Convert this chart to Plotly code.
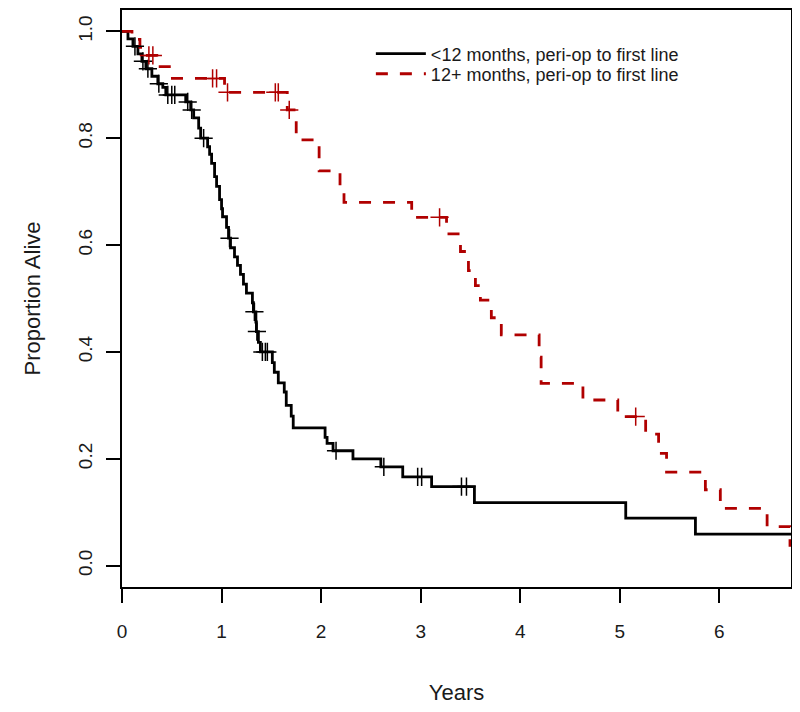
import plotly.graph_objects as go
import numpy as np

# ---- data: Kaplan-Meier step points (time in years, proportion alive) ----
black_times = [0, 0.06, 0.11, 0.16, 0.20, 0.24, 0.30, 0.36, 0.41, 0.44, 0.64, 0.69, 0.72, 0.77, 0.79,
               0.86, 0.88, 0.90, 0.93, 0.95, 0.98, 1.00, 1.01, 1.05, 1.07, 1.09, 1.13, 1.16, 1.19,
               1.22, 1.25, 1.31, 1.32, 1.345, 1.35, 1.37, 1.39, 1.51, 1.53, 1.57, 1.63, 1.65, 1.70,
               1.72, 2.04, 2.06, 2.12, 2.32, 2.60, 2.82, 3.11, 3.54, 5.06, 5.76, 6.80]
black_surv = [1.0, 0.986, 0.972, 0.958, 0.944, 0.930, 0.916, 0.902, 0.895, 0.881, 0.868, 0.853, 0.838, 0.819, 0.800,
              0.784, 0.770, 0.753, 0.728, 0.710, 0.685, 0.668, 0.653, 0.633, 0.613, 0.595, 0.578, 0.562, 0.545,
              0.527, 0.510, 0.492, 0.475, 0.456, 0.438, 0.418, 0.400, 0.380, 0.362, 0.342, 0.325, 0.300, 0.280,
              0.258, 0.240, 0.229, 0.215, 0.200, 0.185, 0.166, 0.148, 0.118, 0.089, 0.059, 0.059]
black_censor = [0.13, 0.21, 0.26, 0.37, 0.46, 0.50, 0.53, 0.66, 0.70, 0.82, 1.08, 1.33, 1.355,
                1.41, 1.44, 1.46, 2.15, 2.63, 2.97, 3.01, 3.41, 3.46]

red_times = [0, 0.10, 0.18, 0.22, 0.35, 0.49, 1.03, 1.66, 1.75, 1.98, 2.19, 2.23, 2.91, 3.26, 3.40,
             3.48, 3.55, 3.60, 3.71, 3.81, 4.19, 4.21, 4.63, 4.98, 5.26, 5.39, 5.47, 5.86, 6.01,
             6.48, 6.71, 6.80]
red_surv = [1.0, 0.985, 0.970, 0.955, 0.934, 0.912, 0.886, 0.853, 0.797, 0.739, 0.700, 0.680, 0.652, 0.621, 0.588,
            0.552, 0.524, 0.497, 0.464, 0.432, 0.390, 0.341, 0.310, 0.279, 0.246, 0.210, 0.175, 0.142, 0.107,
            0.073, 0.038, 0.038]
red_censor = [0.27, 0.31, 0.91, 0.95, 1.06, 1.54, 1.57, 1.68, 3.19, 5.16]

x_ticks = [0, 1, 2, 3, 4, 5, 6]
y_ticks = [0.0, 0.2, 0.4, 0.6, 0.8, 1.0]

series_names = ["<12 months, peri-op to first line", "12+ months, peri-op to first line"]


def surv_at(times, surv, t):
    idx = np.searchsorted(np.array(times), t, side="right") - 1
    return float(np.array(surv)[idx])


BLACK = "#000000"
RED = "#b00000"
TEXT = "#1a1a1a"
FONT = "Liberation Sans, Arial, sans-serif"

fig = go.Figure()

fig.add_trace(go.Scatter(x=black_times, y=black_surv, mode="lines", line_shape="hv",
                         line=dict(color=BLACK, width=2.8), name=series_names[0], legend="legend"))
fig.add_trace(go.Scatter(x=red_times, y=red_surv, mode="lines", line_shape="hv",
                         line=dict(color=RED, width=2.8, dash="12px,12px"), name=series_names[1],
                         legend="legend2"))

fig.add_trace(go.Scatter(x=black_censor, y=[surv_at(black_times, black_surv, t) for t in black_censor],
                         mode="markers", showlegend=False,
                         marker=dict(symbol="cross-thin", size=13, line=dict(color=BLACK, width=1.5))))
fig.add_trace(go.Scatter(x=red_censor, y=[surv_at(red_times, red_surv, t) for t in red_censor],
                         mode="markers", showlegend=False,
                         marker=dict(symbol="cross-thin", size=13, line=dict(color=RED, width=1.5))))

legend_common = dict(xanchor="left", yanchor="middle", bgcolor="rgba(0,0,0,0)",
                     font=dict(size=18, color=TEXT, family=FONT), itemwidth=50)

fig.update_layout(
    width=800, height=712,
    margin=dict(l=114, r=17, t=2, b=133),
    paper_bgcolor="white", plot_bgcolor="white",
    font=dict(family=FONT, size=19, color=TEXT),
    showlegend=True,
    legend=dict(x=0.372, y=0.924, **legend_common),
    legend2=dict(x=0.372, y=0.889, **legend_common),
    xaxis=dict(range=[0, 6.72], tickvals=x_ticks, ticktext=[str(v) for v in x_ticks],
               automargin=False, showgrid=False, zeroline=False, showline=True, mirror=True,
               linecolor="black", linewidth=1.5, ticks="outside", ticklen=14,
               tickwidth=1.5, tickcolor="black", ticklabelstandoff=12,
               title=dict(text="Years", font=dict(size=22), standoff=44)),
    yaxis=dict(range=[-0.04, 1.04], tickvals=y_ticks, ticktext=[f"{v:.1f}" for v in y_ticks],
               tickangle=-90, automargin=False, showgrid=False, zeroline=False, showline=True, mirror=True,
               linecolor="black", linewidth=1.5, ticks="outside", ticklen=14,
               tickwidth=1.5, tickcolor="black", ticklabelstandoff=7,
               title=dict(text="Proportion Alive", font=dict(size=22), standoff=28)),
)

fig.write_html("out.html")
